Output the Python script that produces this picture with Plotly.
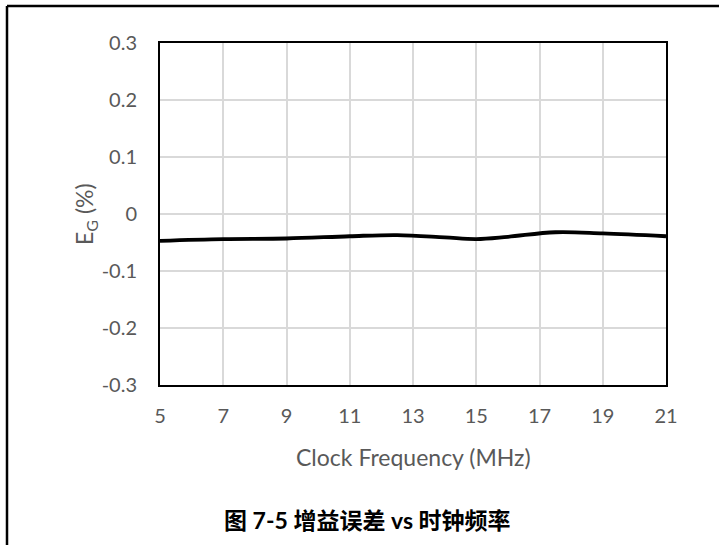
import plotly.graph_objects as go

freq_mhz = [5, 7, 9, 11, 12.5, 14, 15, 16, 17.5, 19, 21]
gain_error_pct = [-0.047, -0.044, -0.043, -0.039, -0.037, -0.041, -0.044, -0.040, -0.032, -0.034, -0.039]
x_ticks = [5, 7, 9, 11, 13, 15, 17, 19, 21]
y_ticks = [-0.3, -0.2, -0.1, 0, 0.1, 0.2, 0.3]
y_tick_text = ["-0.3", "-0.2", "-0.1", "0", "0.1", "0.2", "0.3"]

W, H = 719, 545
L, R, T, B = 160, 666, 43, 385

fig = go.Figure()
fig.add_trace(go.Scatter(
    x=freq_mhz, y=gain_error_pct, mode="lines",
    line=dict(color="black", width=3.8, shape="spline", smoothing=1.0),
    showlegend=False, hoverinfo="skip",
))

tick_font = dict(family="Lato, Carlito, sans-serif", size=20, color="#595959")
title_font = dict(family="Lato, Carlito, sans-serif", size=23, color="#595959")

fig.update_layout(
    width=W, height=H,
    margin=dict(l=L, r=W - R, t=T, b=H - B, pad=0),
    paper_bgcolor="white", plot_bgcolor="white",
    xaxis=dict(
        range=[5, 21], tickvals=x_ticks, ticktext=[str(v) for v in x_ticks],
        showgrid=True, gridcolor="#d9d9d9", gridwidth=1.5,
        showline=True, linecolor="black", linewidth=2, mirror=True,
        ticks="", tickfont=tick_font, zeroline=False,
        ticklabelstandoff=12,
    ),
    yaxis=dict(
        range=[-0.3, 0.3], tickvals=y_ticks, ticktext=y_tick_text,
        showgrid=True, gridcolor="#d9d9d9", gridwidth=1.5,
        showline=True, linecolor="black", linewidth=2, mirror=True,
        ticks="", tickfont=tick_font, zeroline=False,
        ticklabelstandoff=17,
    ),
)

pw, ph = R - L, B - T
def px_x(px):
    return (px - L) / pw
def px_y(py):
    return (B - py) / ph

# axis titles
fig.add_annotation(
    text="Clock Frequency (MHz)", xref="paper", yref="paper",
    x=px_x(413), y=px_y(457), xanchor="center", yanchor="middle",
    showarrow=False, font=title_font,
)
fig.add_annotation(
    text="E<sub>G</sub> (%)", xref="paper", yref="paper",
    x=px_x(85), y=px_y(214), xanchor="center", yanchor="middle",
    textangle=-90, showarrow=False, font=title_font,
)

# outer frame (left, top edges; right edge lies beyond the view)
fig.add_shape(type="line", xref="paper", yref="paper",
              x0=px_x(7), x1=px_x(7), y0=px_y(550), y1=px_y(6),
              line=dict(color="black", width=2.5))
fig.add_shape(type="line", xref="paper", yref="paper",
              x0=px_x(7), x1=px_x(730), y0=px_y(6), y1=px_y(6),
              line=dict(color="black", width=2.5))

fig.add_annotation(
    text="<b>图 7-5 增益误差 vs 时钟频率</b>",
    xref="paper", yref="paper", x=px_x(367), y=px_y(520),
    xanchor="center", yanchor="middle", showarrow=False,
    font=dict(family="Lato, Noto Sans CJK SC, sans-serif", size=23, color="black"),
)

fig.write_html("out.html")
